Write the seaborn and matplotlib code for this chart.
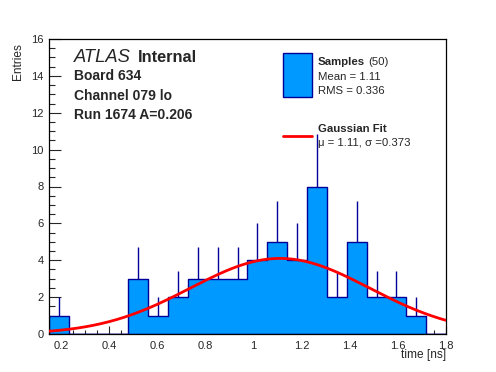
import numpy as np
import pandas as pd
import matplotlib
matplotlib.use('Agg')
import matplotlib.pyplot as plt
from matplotlib.patches import Rectangle
from matplotlib.lines import Line2D
from matplotlib.ticker import MultipleLocator
import seaborn as sns

# histogram: 20 bins between 0.15 and 1.8 ns
bin_edges = np.linspace(0.15, 1.8, 21)
counts = [1, 0, 0, 0, 3, 1, 2, 3, 3, 3, 4, 5, 4, 8, 2, 5, 2, 2, 1, 0]

# gaussian fit parameters
fit_mu = 1.11
fit_sigma = 0.373
fit_amp = 4.1

centers = (bin_edges[:-1] + bin_edges[1:]) / 2
df = pd.DataFrame({'time': centers, 'n': counts})

fill_col = '#0099ff'
edge_col = '#000099'

sns.set_style('ticks')
plt.rcParams['font.family'] = ['Liberation Sans', 'DejaVu Sans']

fig = plt.figure(figsize=(4.96, 3.72), dpi=100)
ax = fig.add_axes([49/496, 1-334/372, (446-49)/496, (334-39)/372])

# error bars first, histogram fill covers the lower half
nz = df[df.n > 0]
ax.vlines(nz.time, nz.n - np.sqrt(nz.n), nz.n + np.sqrt(nz.n), color=edge_col, lw=1, zorder=1)
sns.histplot(x=df['time'], weights=df['n'], bins=bin_edges.tolist(), element='step', fill=True,
             color=fill_col, edgecolor=edge_col, linewidth=1.0, alpha=1, ax=ax, zorder=2)

# fitted gaussian
xs = np.linspace(0.15, 1.8, 200)
ys = fit_amp * np.exp(-0.5 * ((xs - fit_mu) / fit_sigma) ** 2)
sns.lineplot(x=xs, y=ys, color='red', lw=2, ax=ax, zorder=3)

ax.set_xlim(0.15, 1.8)
ax.set_ylim(0, 16)
ax.set_xlabel('')
ax.set_ylabel('')
ax.xaxis.set_major_locator(MultipleLocator(0.2))
ax.xaxis.set_minor_locator(MultipleLocator(0.05))
ax.yaxis.set_major_locator(MultipleLocator(2))
ax.yaxis.set_minor_locator(MultipleLocator(0.5))
ax.set_xticks(np.arange(0.2, 1.81, 0.2))
ax.set_xticklabels(['0.2', '0.4', '0.6', '0.8', '1', '1.2', '1.4', '1.6', '1.8'])
ax.tick_params(axis='x', which='major', direction='in', length=6, width=0.8, labelsize=8, pad=5)
ax.tick_params(axis='x', which='minor', direction='in', length=3, width=0.8)
ax.tick_params(axis='y', which='major', direction='in', length=8.4, width=0.8, labelsize=8, pad=4)
ax.tick_params(axis='y', which='minor', direction='in', length=4.3, width=0.8)
for s in ax.spines.values():
    s.set_linewidth(0.9)
    s.set_color('black')

def px(x, y):
    return x / 496, 1 - y / 372

fig.text(*px(446, 355), 'time [ns]', ha='right', va='center', fontsize=8.6)
fig.text(*px(18, 43), 'Entries', rotation=90, ha='center', va='top', fontsize=8.6)

fig.text(*px(74, 57), 'ATLAS', style='italic', ha='left', va='center', fontsize=13.2)
fig.text(*px(138, 57), 'Internal', weight='bold', ha='left', va='center', fontsize=11.8)
fig.text(*px(74, 76), 'Board 634', weight='bold', ha='left', va='center', fontsize=10)
fig.text(*px(74, 96), 'Channel 079 lo', weight='bold', ha='left', va='center', fontsize=10)
fig.text(*px(74, 115), 'Run 1674 A=0.206', weight='bold', ha='left', va='center', fontsize=10)

# legend
fig.add_artist(Rectangle(px(283, 97), 29/496, 44/372, transform=fig.transFigure,
                         facecolor=fill_col, edgecolor=edge_col, lw=1))
fig.text(*px(318, 62), 'Samples', weight='bold', ha='left', va='center', fontsize=8.2)
fig.text(*px(368.5, 62), '(50)', ha='left', va='center', fontsize=8.2)
fig.text(*px(318, 76.5), 'Mean = 1.11', ha='left', va='center', fontsize=8.2)
fig.text(*px(318, 91), 'RMS = 0.336', ha='left', va='center', fontsize=8.2)
fig.add_artist(Line2D([283/496, 312/496], [1-136/372, 1-136/372], transform=fig.transFigure,
                      color='red', lw=2))
fig.text(*px(318, 129.5), 'Gaussian Fit', weight='bold', ha='left', va='center', fontsize=8.2)
fig.text(*px(318, 142.5), '\u03bc = 1.11, \u03c3 =0.373', ha='left', va='center', fontsize=8.2)

fig.savefig('out.png', dpi=100)
